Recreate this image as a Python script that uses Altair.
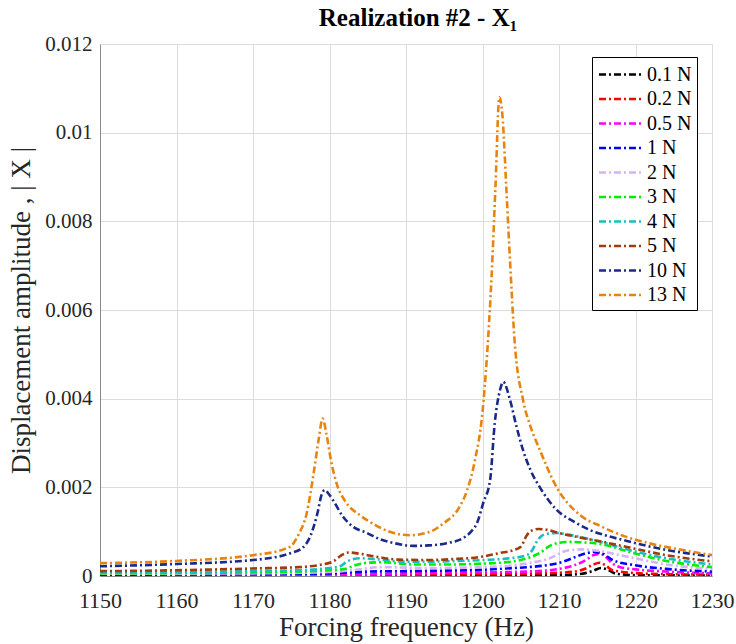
import altair as alt
import pandas as pd

labels = ["0.1 N", "0.2 N", "0.5 N", "1 N", "2 N", "3 N", "4 N", "5 N", "10 N", "13 N"]
colors = ["#000000", "#ff0000", "#ff00ff", "#0000ff", "#d5b3f7", "#00ee00",
          "#17bfbf", "#a23b0c", "#1a2a8a", "#e8830e"]

f_01 = [1150, 1185, 1189, 1191, 1193, 1200, 1210, 1213, 1214.5, 1215.5, 1216.5, 1217.5, 1220, 1230]
a_01 = [0.000005, 0.00001, 0.00003, 0.00004, 0.00002, 0.00001, 0.00002, 0.00005, 0.00012, 0.00018, 0.00013, 0.00005, 0.00002, 0.00001]

f_02 = [1150, 1180, 1190, 1200, 1208, 1212, 1213.5, 1214.5, 1215.3, 1216, 1217, 1218, 1222, 1230]
a_02 = [0.00001, 0.00002, 0.00003, 0.00004, 0.00006, 0.0001, 0.00017, 0.00026, 0.0003, 0.00025, 0.00013, 0.0001, 0.00005, 0.00003]

f_05 = [1150, 1180, 1190, 1200, 1206, 1210, 1212, 1213.5, 1214.5, 1215.3, 1216, 1217, 1218, 1220, 1224, 1230]
a_05 = [0.000015, 0.00003, 0.00006, 0.00008, 0.0001, 0.00016, 0.00024, 0.00036, 0.00047, 0.0005, 0.00045, 0.00028, 0.0002, 0.00015, 0.0001, 0.00006]

f_1 = [1150, 1170, 1180, 1185, 1190, 1195, 1200, 1203, 1206, 1209, 1210.5, 1212, 1213.5, 1214.5, 1215.5, 1217, 1219.7, 1224, 1230]
a_1 = [0.00003, 0.00004, 0.00006, 0.0001, 0.00011, 0.00012, 0.00014, 0.00017, 0.0002, 0.00026, 0.00032, 0.00042, 0.00051, 0.00054, 0.00052, 0.00036, 0.00025, 0.00016, 0.0001]

f_2 = [1150, 1170, 1180, 1183, 1186.6, 1190, 1193, 1200, 1203.6, 1206, 1208.8, 1211, 1213, 1215, 1218, 1220, 1224, 1230]
a_2 = [0.00005, 0.00006, 0.00009, 0.00013, 0.0002, 0.00019, 0.00018, 0.0002, 0.00023, 0.00029, 0.0004, 0.00057, 0.0006, 0.00057, 0.00047, 0.0004, 0.00026, 0.00016]

f_3 = [1150, 1170, 1180, 1182, 1183.5, 1185, 1187, 1191, 1196, 1200, 1202.3, 1205, 1207.5, 1208.8, 1210, 1211.4, 1213, 1215.4, 1219.7, 1224, 1230]
a_3 = [0.00006, 0.00008, 0.00013, 0.00016, 0.00025, 0.0003, 0.00031, 0.00026, 0.00026, 0.00028, 0.0003, 0.00036, 0.00052, 0.00068, 0.00075, 0.00077, 0.00076, 0.00072, 0.00052, 0.00034, 0.0002]

f_4 = [1150, 1160, 1170, 1176, 1180, 1181.4, 1182.3, 1184, 1186, 1189, 1191, 1195, 1200, 1203.6, 1205.8, 1206.5, 1207, 1207.7, 1208.4, 1209.7, 1211, 1213, 1215.4, 1220, 1224, 1230]
a_4 = [0.00008, 0.00009, 0.00011, 0.00013, 0.00018, 0.00022, 0.00033, 0.0004, 0.00038, 0.00033, 0.00032, 0.00033, 0.00036, 0.0004, 0.00047, 0.00058, 0.00075, 0.0009, 0.00095, 0.00097, 0.00094, 0.00087, 0.00077, 0.00055, 0.0004, 0.00026]

f_5 = [1150, 1160, 1170, 1176, 1179, 1180.5, 1181.5, 1182.5, 1184, 1186.6, 1189, 1193, 1196, 1199.7, 1202.3, 1204, 1205, 1205.8, 1206.5, 1207.3, 1208.5, 1210, 1213, 1216, 1219.5, 1224, 1230]
a_5 = [0.00011, 0.00013, 0.00017, 0.0002, 0.00026, 0.00033, 0.00046, 0.00053, 0.0005, 0.00042, 0.00037, 0.00036, 0.00038, 0.00043, 0.00052, 0.00058, 0.00066, 0.00092, 0.00103, 0.00106, 0.00104, 0.00097, 0.00086, 0.00076, 0.00063, 0.00047, 0.00033]

f_10 = [1150, 1160, 1170, 1175, 1176.5, 1177.5, 1178.4, 1179, 1179.4, 1179.9, 1180.5, 1181.8, 1183, 1184.9, 1186.6, 1188.5, 1191, 1193, 1195.3, 1197.5, 1198.5, 1199.3, 1200.1, 1201, 1201.6, 1202.3, 1202.7, 1203.6, 1204.4, 1205.3, 1206.3, 1207.5, 1209.7, 1212, 1214, 1216, 1218.4, 1220, 1224, 1230]
a_10 = [0.00022, 0.00027, 0.00036, 0.00052, 0.00064, 0.0009, 0.0014, 0.00185, 0.00194, 0.00185, 0.0017, 0.00133, 0.00112, 0.00097, 0.00083, 0.00074, 0.00068, 0.00069, 0.00074, 0.00086, 0.001, 0.0012, 0.00165, 0.00217, 0.00345, 0.0042, 0.00438, 0.00397, 0.0034, 0.00284, 0.00238, 0.002, 0.00149, 0.00122, 0.00104, 0.00092, 0.00081, 0.00074, 0.00059, 0.00044]

f_13 = [1150, 1160, 1170, 1174, 1175, 1176, 1177, 1178, 1178.6, 1179.1, 1179.6, 1180.2, 1181, 1182, 1184, 1186, 1188, 1190.5, 1193, 1195, 1197, 1198, 1199, 1200, 1200.6, 1201.2, 1201.7, 1202.2, 1202.6, 1203.1, 1203.6, 1204.2, 1205.3, 1206.3, 1207.5, 1209.7, 1212.7, 1215.5, 1218.5, 1222, 1226, 1230]
a_13 = [0.00029, 0.00034, 0.00047, 0.0006, 0.00068, 0.00095, 0.0014, 0.0024, 0.0031, 0.00355, 0.0032, 0.0026, 0.00205, 0.0017, 0.00137, 0.00115, 0.00099, 0.00092, 0.00099, 0.0012, 0.00156, 0.00194, 0.0026, 0.0037, 0.005, 0.0068, 0.0088, 0.0108, 0.0104, 0.0088, 0.0071, 0.0053, 0.00397, 0.00336, 0.00284, 0.002, 0.00138, 0.00112, 0.0009, 0.00073, 0.00059, 0.00047]

series = [(f_01, a_01), (f_02, a_02), (f_05, a_05), (f_1, a_1), (f_2, a_2),
          (f_3, a_3), (f_4, a_4), (f_5, a_5), (f_10, a_10), (f_13, a_13)]

rows = []
for k, (lab, (fs, amps)) in enumerate(zip(labels, series)):
    for i, (fv, av) in enumerate(zip(fs, amps)):
        rows.append({"force": lab, "k": k, "freq": fv, "amp": av, "i": i})
df = pd.DataFrame(rows)

FONT = "Liberation Serif"
TXT = "#262626"
dash = [7, 3, 2, 3]

chart = alt.Chart(df).mark_line(
    strokeWidth=2.6, strokeDash=dash, interpolate="monotone", clip=True
).encode(
    x=alt.X("freq:Q", scale=alt.Scale(domain=[1150, 1230], nice=False, zero=False),
            axis=alt.Axis(title="Forcing frequency (Hz)", values=list(range(1150, 1231, 10)),
                          format="d", labelFont=FONT, titleFont=FONT,
                          labelFontSize=22, titleFontSize=27, labelFlush=False,
                          labelColor=TXT, titleColor=TXT, titleFontWeight="normal",
                          labelPadding=14, titlePadding=3, tickSize=0)),
    y=alt.Y("amp:Q", scale=alt.Scale(domain=[0, 0.012], nice=False),
            axis=alt.Axis(title="Displacement amplitude , | X |",
                          values=[0, 0.002, 0.004, 0.006, 0.008, 0.01, 0.012],
                          format="~g", labelFont=FONT, titleFont=FONT,
                          labelFontSize=21, titleFontSize=27, labelFlush=False,
                          labelColor=TXT, titleColor=TXT, titleFontWeight="normal",
                          labelPadding=8, titlePadding=9, tickSize=0)),
    color=alt.Color("force:N", scale=alt.Scale(domain=labels, range=colors),
                    sort=labels,
                    legend=alt.Legend(title=None, orient="none", legendX=492, legendY=13,
                                      symbolType="M-2,0L2,0", symbolSize=462,
                                      symbolStrokeWidth=2.6, symbolDash=dash,
                                      symbolOffset=11,
                                      labelFontSize=20, labelFont=FONT, labelColor="#000000",
                                      rowPadding=1.5, labelOffset=14,
                                      strokeColor="#000000", fillColor="#ffffff",
                                      padding=5)),
    order=alt.Order("i:Q"),
    detail="k:O",
).properties(
    width=612, height=532,
    title=alt.TitleParams("Realization #2 - X₁", font=FONT, fontSize=25, fontWeight="bold",
                          color="#000000", anchor="middle", offset=2, dx=12),
    padding={"left": 100, "top": 44, "right": 24, "bottom": 68},
    autosize="none",
).configure(font=FONT).configure_axis(
    gridColor="#dcdcdc", gridWidth=1, domainColor="#8a8a8a",
).configure_view(stroke=None)

chart.save("out.html", embed_options={"renderer": "svg", "actions": False})
